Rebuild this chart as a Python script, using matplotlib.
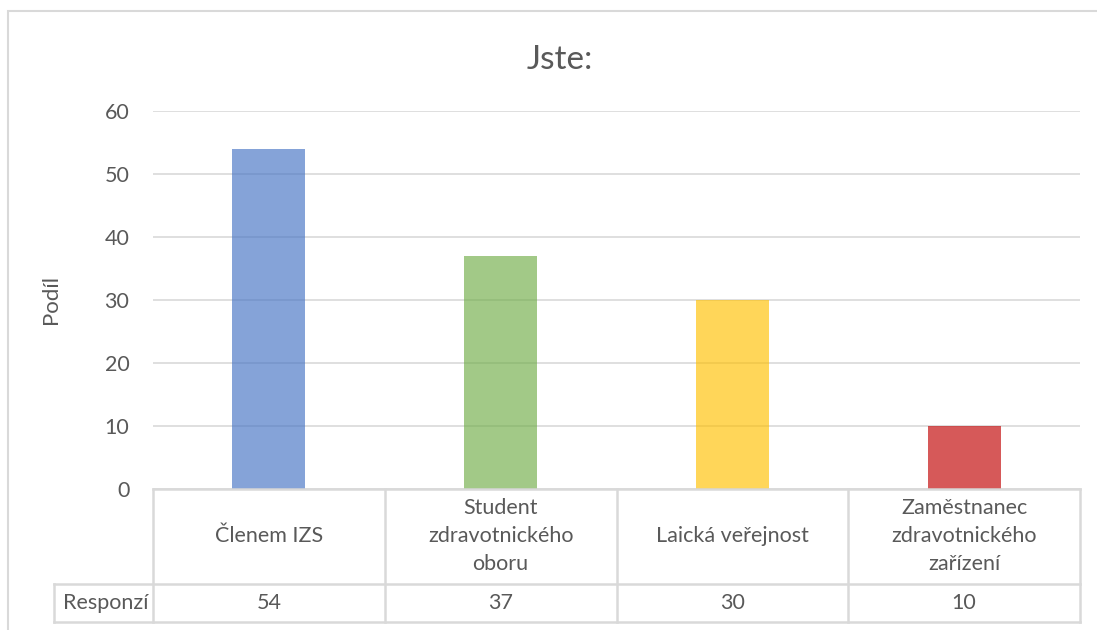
import matplotlib
matplotlib.use("Agg")
import matplotlib.pyplot as plt
from matplotlib.patches import Rectangle
import matplotlib.transforms as mtransforms

# data
categories = ["Členem IZS", "Student\nzdravotnického\noboru", "Laická veřejnost",
              "Zaměstnanec\nzdravotnického\nzařízení"]
responses = [54, 37, 30, 10]
colors = ["#4472C4", "#70AD47", "#FFC000", "#C00000"]
row_label = "Responzí"
title = "Jste:"
ylabel = "Podíl"
yticks = [0, 10, 20, 30, 40, 50, 60]

plt.rcParams['font.family'] = ['Lato', 'DejaVu Sans']
txt = "#595959"
line_c = "#D9D9D9"
fs = 15.5

W, H = 1097, 630
fig = plt.figure(figsize=(W / 100, H / 100), dpi=100)

# outer chart border (runs past the right and bottom edges)
fig.patches.append(Rectangle((8 / W, -0.1), 1.2, 1 - 11 / H + 0.1, transform=fig.transFigure,
                             fill=False, edgecolor=line_c, linewidth=1.5))

ax = fig.add_axes([153 / W, 1 - 489 / H, (1080 - 153) / W, (489 - 111) / H])
x = list(range(len(categories)))
ax.bar(x, responses, width=0.315, color=colors, alpha=0.65, zorder=3)
ax.set_xlim(-0.5, len(categories) - 0.5)
ax.set_ylim(0, 60)
ax.set_yticks(yticks)
ax.set_yticklabels([str(t) for t in yticks], fontsize=fs, color=txt)
ax.tick_params(axis='y', length=0, pad=17)
ax.set_xticks([])
ax.yaxis.grid(True, color=line_c, linewidth=1.2, zorder=0)
ax.set_axisbelow(True)
for s in ["top", "right", "left", "bottom"]:
    ax.spines[s].set_visible(False)

ax.set_ylabel(ylabel, fontsize=16, color=txt, labelpad=31)
fig.text(560 / W, 1 - 60 / H, title, fontsize=24, color=txt, ha='center', va='center')

# data table under the chart
tr = mtransforms.blended_transform_factory(ax.transData, ax.transAxes)
h_px = 489 - 111
y_row1 = (489 - 584) / h_px
y_row2 = (489 - 622) / h_px
x_left = -0.5 - (153 - 54) / ((1080 - 153) / len(categories))
lw = 1.8
kw = dict(color=line_c, linewidth=lw, transform=tr, clip_on=False, zorder=5)
ax.plot([-0.5, len(categories) - 0.5], [0, 0], **kw)
ax.plot([x_left, len(categories) - 0.5], [y_row1, y_row1], **kw)
ax.plot([x_left, len(categories) - 0.5], [y_row2, y_row2], **kw)
ax.plot([x_left, x_left], [y_row1, y_row2], **kw)
for i in range(len(categories) + 1):
    ax.plot([i - 0.5, i - 0.5], [0, y_row2], **kw)

for i, (c, v) in enumerate(zip(categories, responses)):
    ax.text(i, y_row1 / 2, c, transform=tr, ha='center', va='center', fontsize=fs,
            color=txt, linespacing=1.5)
    ax.text(i, (y_row1 + y_row2) / 2, str(v), transform=tr, ha='center', va='center',
            fontsize=fs, color=txt)
ax.text(-0.5 - 0.02, (y_row1 + y_row2) / 2, row_label, transform=tr, ha='right',
        va='center', fontsize=fs, color=txt)

fig.savefig("out.png", dpi=100)
